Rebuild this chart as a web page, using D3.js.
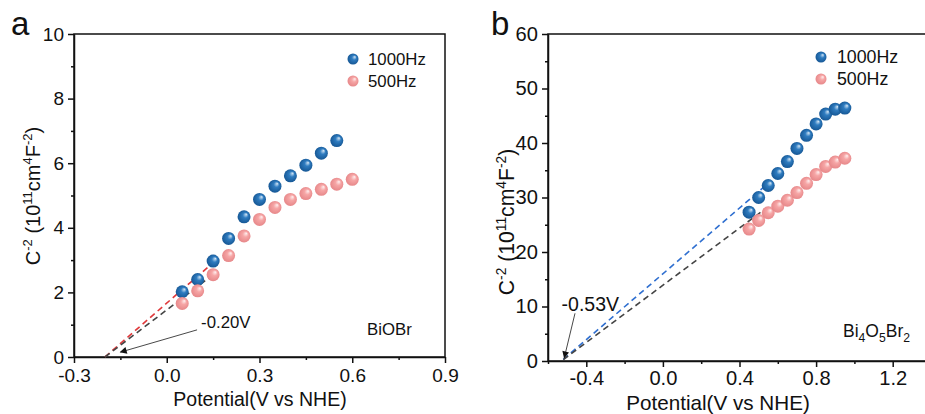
<!DOCTYPE html>
<html>
<head>
<meta charset="utf-8">
<script src="https://cdn.jsdelivr.net/npm/d3@7"></script>
<style>
body { margin: 0; background: #fff; }
svg { display: block; font-family: "Liberation Sans", Arial, sans-serif; }
</style>
</head>
<body>
<svg id="chart" width="925" height="414"></svg>
<script>
// panel a : BiOBr
var potA1000 = [0.05, 0.10, 0.15, 0.20, 0.25, 0.30, 0.35, 0.40, 0.45, 0.50, 0.55];
var valA1000 = [2.02, 2.40, 2.97, 3.67, 4.34, 4.88, 5.29, 5.61, 5.94, 6.31, 6.70];
var potA500 = [0.05, 0.10, 0.15, 0.20, 0.25, 0.30, 0.35, 0.40, 0.45, 0.50, 0.55, 0.60];
var valA500 = [1.66, 2.05, 2.55, 3.14, 3.75, 4.26, 4.63, 4.88, 5.06, 5.19, 5.35, 5.50];
var fitA1000 = [[-0.20, 0], [0.15, 2.92]];
var fitA500 = [[-0.20, 0], [0.15, 2.55]];
var ticksXA = [-0.3, 0.0, 0.3, 0.6, 0.9];
var ticksYA = [0, 2, 4, 6, 8, 10];

// panel b : Bi4O5Br2
var potB = [0.45, 0.50, 0.55, 0.60, 0.65, 0.70, 0.75, 0.80, 0.85, 0.90, 0.95];
var valB1000 = [27.3, 30.0, 32.2, 34.4, 36.6, 39.0, 41.4, 43.5, 45.3, 46.2, 46.4];
var valB500 = [24.2, 25.8, 27.2, 28.4, 29.5, 30.9, 32.6, 34.2, 35.7, 36.5, 37.2];
var fitB1000 = [[-0.52, 0.3], [0.55, 32.6]];
var fitB500 = [[-0.52, 0.26], [0.53, 27.8]];
var ticksXB = [-0.4, 0.0, 0.4, 0.8, 1.2];
var ticksYB = [0, 10, 20, 30, 40, 50, 60];

var legendNames = ["1000Hz", "500Hz"];

var svg = d3.select("#chart");

// sphere-like markers
var defs = svg.append("defs");
function sphere(id, hi, mid, dark) {
	var g = defs.append("radialGradient").attr("id", id)
		.attr("cx", "50%").attr("cy", "50%").attr("r", "55%")
		.attr("fx", "68%").attr("fy", "30%");
	g.append("stop").attr("offset", "0%").attr("stop-color", hi);
	g.append("stop").attr("offset", "38%").attr("stop-color", mid);
	g.append("stop").attr("offset", "100%").attr("stop-color", dark);
}
sphere("gBlue", "#d6e8f7", "#2f7cc0", "#135390");
sphere("gPink", "#fff1f1", "#f6a6a6", "#e58486");

defs.append("marker").attr("id", "arrow")
	.attr("viewBox", "0 0 10 10").attr("refX", 9).attr("refY", 5)
	.attr("markerWidth", 9).attr("markerHeight", 7).attr("orient", "auto")
	.attr("markerUnits", "userSpaceOnUse")
	.append("path").attr("d", "M0,0 L10,5 L0,10 Z").attr("fill", "#111");

function drawPanel(p) {
	var x = d3.scaleLinear().domain(p.xDomain).range([p.left, p.right]);
	var y = d3.scaleLinear().domain(p.yDomain).range([p.bottom, p.top]);
	var k = p.fs;
	var g = svg.append("g");

	// frame
	g.append("rect")
		.attr("x", p.left).attr("y", p.top)
		.attr("width", p.right - p.left).attr("height", p.bottom - p.top)
		.attr("fill", "none").attr("stroke", "#111").attr("stroke-width", 1.5);

	// minor ticks
	g.append("g").attr("transform", "translate(0," + p.bottom + ")")
		.call(d3.axisBottom(x).tickValues(p.minorX).tickSize(3).tickFormat(""))
		.call(s => s.select(".domain").remove());
	g.append("g").attr("transform", "translate(" + p.left + ",0)")
		.call(d3.axisLeft(y).tickValues(p.minorY).tickSize(3).tickFormat(""))
		.call(s => s.select(".domain").remove());

	var xa = g.append("g").attr("transform", "translate(0," + p.bottom + ")")
		.call(d3.axisBottom(x).tickValues(p.ticksX).tickSize(6).tickSizeOuter(0)
			.tickPadding(p.xPad).tickFormat(d3.format(".1f")));
	var ya = g.append("g").attr("transform", "translate(" + p.left + ",0)")
		.call(d3.axisLeft(y).tickValues(p.ticksY).tickSize(6).tickSizeOuter(0)
			.tickPadding(4).tickFormat(d3.format("d")));
	[xa, ya].forEach(function(a) {
		a.selectAll("text").attr("font-size", 19 * k).attr("fill", "#111")
			.attr("font-family", "Liberation Sans, Arial, sans-serif");
		a.select(".domain").attr("stroke", "#111").attr("stroke-width", 1.5);
	});
	g.selectAll("line").attr("stroke", "#111").attr("stroke-width", 1.5);
	xa.selectAll("text").text(function(d) { return d3.format(".1f")(d).replace("\u2212", "-"); });

	// fit lines
	var line = d3.line().x(d => x(d[0])).y(d => y(d[1]));
	p.fits.forEach(function(f) {
		g.append("path").attr("d", line(f.pts)).attr("fill", "none")
			.attr("stroke", f.color).attr("stroke-width", 1.6)
			.attr("stroke-dasharray", "6,4");
	});

	// data points
	p.series.forEach(function(s) {
		g.append("g").selectAll("circle")
			.data(s.xs.map((v, i) => [v, s.ys[i]]))
			.join("circle")
			.attr("cx", d => x(d[0])).attr("cy", d => y(d[1]))
			.attr("r", 6.5).attr("fill", "url(#" + s.grad + ")");
	});

	// annotation arrow
	g.append("line")
		.attr("x1", x(p.arrow[0][0])).attr("y1", y(p.arrow[0][1]))
		.attr("x2", x(p.arrow[1][0])).attr("y2", y(p.arrow[1][1]))
		.attr("stroke", "#333").attr("stroke-width", 0.9)
		.attr("marker-end", "url(#arrow)");
	g.append("text").attr("x", x(p.note[0])).attr("y", y(p.note[1]))
		.attr("font-size", p.noteSize).attr("fill", "#111").text(p.noteText);

	// legend
	p.series.forEach(function(s, i) {
		var ly = p.top + p.legendY + i * 22;
		g.append("circle").attr("cx", p.legendX).attr("cy", ly).attr("r", 5.5)
			.attr("fill", "url(#" + s.grad + ")");
		g.append("text").attr("x", p.legendX + 15 * k).attr("y", ly + 6)
			.attr("font-size", 16.8 * k).attr("fill", "#111").text(legendNames[i]);
	});

	// sample name
	var sn = g.append("text").attr("x", p.sample[0]).attr("y", p.sample[1])
		.attr("fill", "#111");
	p.sampleParts.forEach(function(t) {
		sn.append("tspan").attr("dy", t[1]).attr("font-size", t[2] * k).text(t[0]);
	});

	// axis titles
	g.append("text").attr("x", p.xTitle[0]).attr("y", p.xTitle[1])
		.attr("text-anchor", "middle").attr("font-size", 19.5 * k).attr("fill", "#111")
		.text("Potential(V vs NHE)");
	var yt = g.append("text")
		.attr("transform", "translate(" + p.yTitle[0] + "," + p.yTitle[1] + ") rotate(-90)")
		.attr("text-anchor", "middle").attr("fill", "#111");
	[["C", 0, 20], ["-2", -8, 13], [" (10", 8, 20], ["11", -8, 13], ["cm", 8, 20],
	 ["4", -8, 13], ["F", 8, 20], ["-2", -8, 13], [")", 8, 20]].forEach(function(t) {
		yt.append("tspan").attr("dy", t[1] * k).attr("font-size", t[2] * k).text(t[0]);
	});

	// panel letter
	g.append("text").attr("x", p.letter[0]).attr("y", 35)
		.attr("font-size", 33).attr("fill", "#111").text(p.letter[1]);
}

drawPanel({
	left: 74, right: 445, top: 34, bottom: 357, fs: 1,
	xDomain: [-0.3, 0.9], yDomain: [0, 10],
	ticksX: ticksXA, ticksY: ticksYA,
	minorX: [-0.15, 0.15, 0.45, 0.75], minorY: [1, 3, 5, 7, 9],
	xPad: 6,
	fits: [{pts: fitA1000, color: "#e0383a"}, {pts: fitA500, color: "#444"}],
	series: [{xs: potA1000, ys: valA1000, grad: "gBlue"}, {xs: potA500, ys: valA500, grad: "gPink"}],
	arrow: [[0.098, 0.84], [-0.15, 0.15]],
	note: [0.111, 0.9], noteText: "-0.20V", noteSize: 16.8,
	legendX: 353, legendY: 25,
	sample: [367, 335], sampleParts: [["BiOBr", 0, 16.8]],
	xTitle: [260, 406], yTitle: [40, 196],
	letter: [11, "a"]
});

drawPanel({
	left: 548, right: 931, top: 34, bottom: 361, fs: 1.06,
	xDomain: [-0.6, 1.4], yDomain: [0, 60],
	ticksX: ticksXB, ticksY: ticksYB,
	minorX: [-0.6, -0.2, 0.2, 0.6, 1.0], minorY: [5, 15, 25, 35, 45, 55],
	xPad: 4,
	fits: [{pts: fitB1000, color: "#2f6fd0"}, {pts: fitB500, color: "#444"}],
	series: [{xs: potB, ys: valB1000, grad: "gBlue"}, {xs: potB, ys: valB500, grad: "gPink"}],
	arrow: [[-0.459, 8.75], [-0.515, 0.6]],
	note: [-0.529, 9.2], noteText: "-0.53V", noteSize: 19.5,
	legendX: 821, legendY: 23,
	sample: [843, 337], sampleParts: [["Bi", 0, 16.5], ["4", 5, 11.5], ["O", -5, 16.5], ["5", 5, 11.5], ["Br", -5, 16.5], ["2", 5, 11.5]],
	xTitle: [718, 410], yTitle: [514, 222],
	letter: [491, "b"]
});
</script>
</body>
</html>
